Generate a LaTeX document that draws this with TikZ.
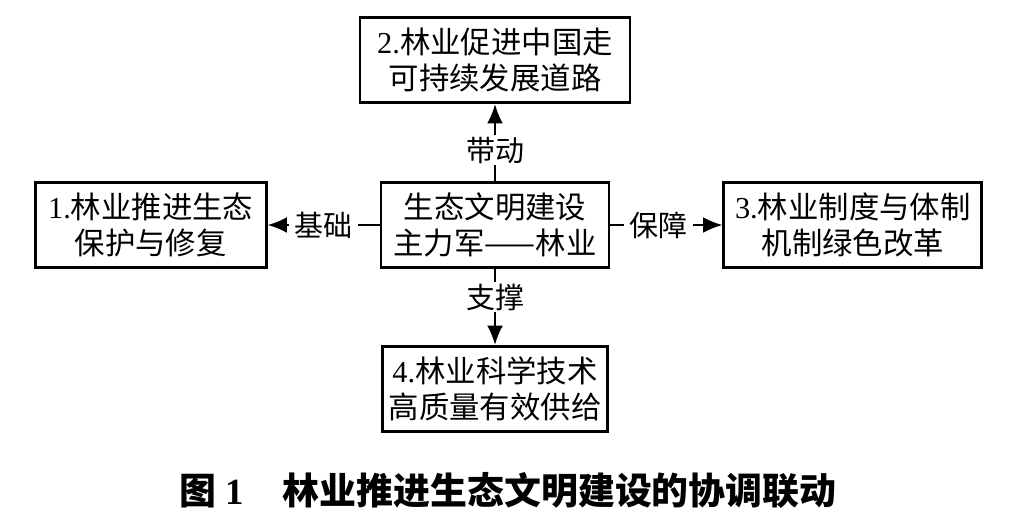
\documentclass[tikz,border=0pt]{standalone}
\usepackage{fontspec}
\setmainfont{Liberation Serif}
\newfontfamily\cjk{Noto Sans CJK SC}
\usetikzlibrary{arrows.meta,positioning}

\begin{document}
\begin{tikzpicture}[
    box/.style={draw, line width=1.6pt, align=center, minimum height=1.7cm,
      inner sep=0pt, font=\fontsize{17.3}{20.5}\selectfont\cjk},
    link/.style={line width=1.1pt, -{Latex[length=11pt,width=9pt]}},
    tag/.style={fill=white, inner xsep=3pt, inner ysep=1pt,
      font=\fontsize{16.5}{20}\selectfont\cjk},
  ]
  \useasboundingbox (0,0) rectangle (20.18,-10.56);
  \node[box, minimum width=4.56cm] (c) at (9.90,-4.50) {生态文明建设\\主力军——林业};
  \node[box, minimum width=4.62cm, left=2.24cm of c] (n1) {{\rmfamily 1.}林业推进生态\\保护与修复};
  \node[box, minimum width=5.40cm, above=1.54cm of c] (n2) {{\rmfamily 2.}林业促进中国走\\可持续发展道路};
  \node[box, minimum width=5.16cm, right=2.24cm of c] (n3) {{\rmfamily 3.}林业制度与体制\\机制绿色改革};
  \node[box, minimum width=4.50cm, below=1.52cm of c] (n4) {{\rmfamily 4.}林业科学技术\\高质量有效供给};
  \draw[link] (c) -- node[tag, pos=0.5] {基础} (n1);
  \draw[link] (c) -- node[tag, pos=0.40] {带动} (n2);
  \draw[link] (c) -- node[tag, pos=0.43] {保障} (n3);
  \draw[link] (c) -- node[tag, pos=0.37] {支撑} (n4);
  \node[font=\fontsize{21}{25}\selectfont\cjk\bfseries] (cap) at (10.16,-9.80)
    {图\hspace{0.25em}{\rmfamily 1}\hspace{1.05em}林业推进生态文明建设的协调联动};
\end{tikzpicture}
\end{document}
